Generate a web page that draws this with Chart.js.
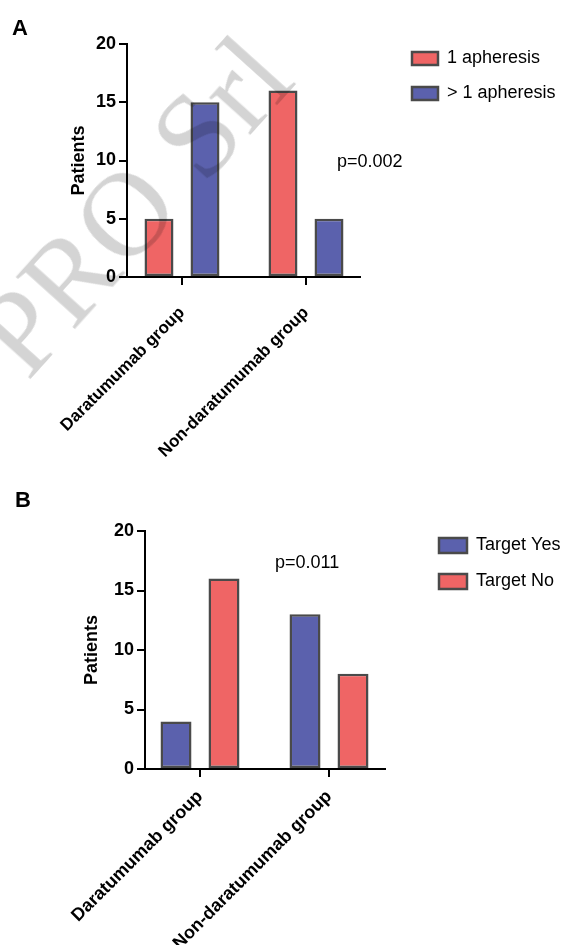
<!DOCTYPE html>
<html>
<head>
<meta charset="utf-8">
<script src="https://cdn.jsdelivr.net/npm/chart.js@4"></script>
<style>
html,body{margin:0;padding:0;background:#fff;}
body{width:572px;height:945px;position:relative;overflow:hidden;font-family:'Liberation Sans',Arial,sans-serif;}
.wrap{position:absolute;left:0;width:572px;}
.wrap canvas{display:block;}
.lbl{position:absolute;color:#000;white-space:nowrap;line-height:1;}
#wm{position:absolute;left:28px;top:281.5px;font-family:'Liberation Serif','Times New Roman',serif;font-size:120px;line-height:120px;color:rgba(0,0,0,0.17);white-space:nowrap;transform-origin:0px 100.5px;transform:rotate(-48deg);pointer-events:none;}
</style>
</head>
<body>
<div class="wrap" style="top:0;height:470px"><canvas id="cA" width="572" height="470"></canvas></div>
<div class="wrap" style="top:470px;height:475px"><canvas id="cB" width="572" height="475"></canvas></div>
<div class="lbl" style="left:12px;top:17px;font-size:22px;font-weight:bold">A</div>
<div class="lbl" style="left:15px;top:489px;font-size:22px;font-weight:bold">B</div>
<div class="lbl" style="left:337px;top:152px;font-size:18px">p=0.002</div>
<div class="lbl" style="left:275px;top:553px;font-size:18px">p=0.011</div>
<div id="wm">PRO Srl</div>
<script>
// ---- data ----
const categories = ['Daratumumab group', 'Non-daratumumab group'];
const yTicks = [0, 5, 10, 15, 20];
const labelsA = ['1 apheresis', '> 1 apheresis'];
const oneApheresis = [5, 16];
const moreApheresis = [15, 5];
const labelsB = ['Target Yes', 'Target No'];
const targetYes = [4, 13];
const targetNo = [16, 8];

// ---- styles ----
const RED = '#EF6565';
const BLUE = '#5B61AD';
const EDGE = '#4a4a4a';

Chart.defaults.font.family = "'Liberation Sans', Arial, sans-serif";
Chart.defaults.color = '#000';

const toPoints = arr => arr.map((v, i) => ({ x: i, y: v }));

const legendMover = {
  id: 'legendMover',
  afterLayout(chart, args, opts) {
    const lg = chart.legend;
    if (!lg) return;
    const w = lg.width, h = lg.height;
    lg.left = opts.x; lg.top = opts.y;
    lg.right = opts.x + w; lg.bottom = opts.y + h;
  }
};

function axisGrid() {
  return { display: true, offset: false, drawOnChartArea: false, drawTicks: true, tickLength: 8, color: '#000', lineWidth: 2 };
}

function makeChart(id, cfg) {
  const ds = cfg.series.map((s, i) => ({
    label: cfg.labels[i],
    data: toPoints(s),
    backgroundColor: cfg.colors[i],
    borderColor: EDGE,
    borderWidth: 2.5,
    borderSkipped: false,
    categoryPercentage: cfg.catPct,
    barPercentage: cfg.barPct
  }));
  return new Chart(document.getElementById(id), {
    type: 'bar',
    data: { datasets: ds },
    options: {
      responsive: false,
      animation: false,
      devicePixelRatio: 1,
      layout: { padding: cfg.padding },
      plugins: {
        legend: {
          position: 'chartArea', align: 'start',
          labels: { boxWidth: cfg.boxW, boxHeight: cfg.boxH, padding: cfg.legPad, color: '#000', font: { size: 18 } }
        },
        tooltip: { enabled: false },
        legendMover: cfg.legendPos
      },
      scales: {
        x: {
          type: 'linear', offset: false, bounds: 'data', z: 1,
          min: cfg.xMin, max: cfg.xMax,
          afterBuildTicks: s => { s.ticks = categories.map((c, i) => ({ value: i })); },
          afterFit: s => { s.height = cfg.xH; },
          grid: axisGrid(),
          border: { display: true, color: '#000', width: 2 },
          ticks: {
            minRotation: 45, maxRotation: 45, padding: cfg.xPad, color: '#000',
            font: { size: cfg.xFont, weight: 'bold' },
            callback: v => categories[v] !== undefined ? categories[v] : ''
          }
        },
        y: {
          min: 0, max: 20,
          afterBuildTicks: s => { s.ticks = yTicks.map(v => ({ value: v })); },
          afterFit: s => { s.width = cfg.yW; },
          grid: axisGrid(),
          border: { display: true, color: '#000', width: 2 },
          ticks: { padding: 3, color: '#000', font: { size: 18, weight: 'bold' } },
          title: { display: true, text: 'Patients', color: '#000', padding: 0, font: { size: 18, weight: 'bold' } }
        }
      }
    },
    plugins: [legendMover]
  });
}

makeChart('cA', {
  series: [oneApheresis, moreApheresis], labels: labelsA, colors: [RED, BLUE],
  catPct: 0.742, barPct: 0.63,
  padding: { left: 68, right: 212, top: 44, bottom: 0 },
  yW: 59, xH: 193, xMin: -0.4435, xMax: 1.4355, xPad: 18, xFont: 17,
  boxW: 26, boxH: 13, legPad: 17, legendPos: { x: 395, y: 32.5 }
});

makeChart('cB', {
  series: [targetYes, targetNo], labels: labelsB, colors: [BLUE, RED],
  catPct: 0.744, barPct: 0.646,
  padding: { left: 81, right: 187, top: 61, bottom: 0 },
  yW: 64, xH: 176, xMin: -0.4264, xMax: 1.434, xPad: 9, xFont: 18,
  boxW: 28, boxH: 15, legPad: 18, legendPos: { x: 421, y: 48.5 }
});
</script>
</body>
</html>
